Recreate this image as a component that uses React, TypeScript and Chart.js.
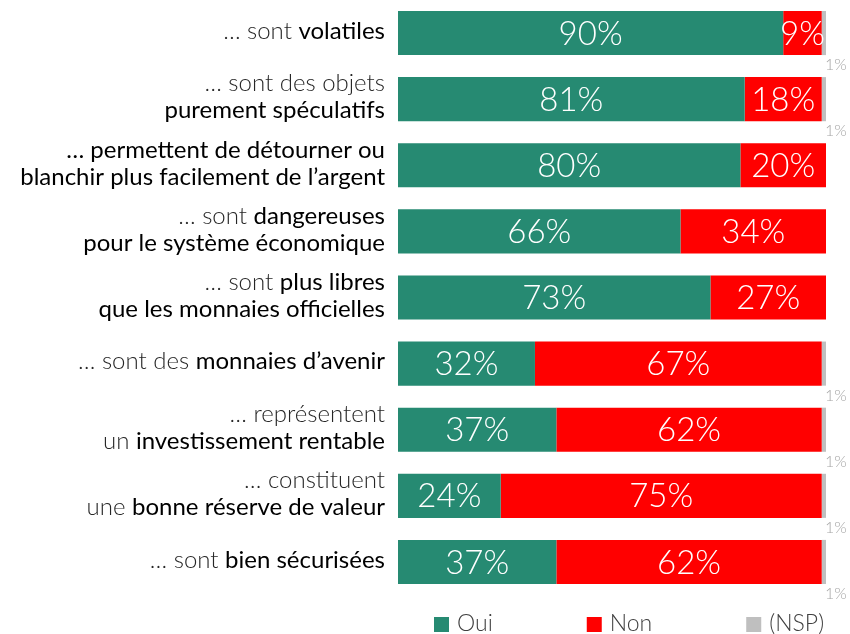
import React, { useEffect, useRef } from "react";
import { Chart, registerables } from "chart.js";

Chart.register(...registerables);

// [text, emphasised]
type Seg = [string, boolean];

const categoryLines: Seg[][][] = [
  [[["… sont ", false], ["volatiles", true]]],
  [[["… sont des objets", false]], [["purement spéculatifs", true]]],
  [[["… permettent de détourner ou", true]], [["blanchir plus facilement de l’argent", true]]],
  [[["… sont ", false], ["dangereuses", true]], [["pour le système économique", true]]],
  [[["… sont ", false], ["plus libres", true]], [["que les monnaies officielles", true]]],
  [[["… sont des ", false], ["monnaies d’avenir", true]]],
  [[["… représentent", false]], [["un ", false], ["investissement rentable", true]]],
  [[["… constituent", false]], [["une ", false], ["bonne réserve de valeur", true]]],
  [[["… sont ", false], ["bien sécurisées", true]]],
];

const categories = categoryLines.map((lines) =>
  lines.map((segs) => segs.map((s) => s[0]).join("")).join(" ")
);

const ouiValues = [90, 81, 80, 66, 73, 32, 37, 24, 37];
const nonValues = [9, 18, 20, 34, 27, 67, 62, 75, 62];
const nspValues = [1, 1, 0, 0, 0, 1, 1, 1, 1];

const seriesNames = ["Oui", "Non", "(NSP)"];
const seriesColors = ["#268A72", "#FF0000", "#BFBFBF"];

const FONT = "Lato, 'Open Sans', sans-serif";

const fontFor = (bold: boolean, size = 24) =>
  `${bold ? 400 : 300} ${size}px ${FONT}`;

const overlayPlugin = {
  id: "overlay",
  afterDatasetsDraw(chart: any) {
    const ctx: CanvasRenderingContext2D = chart.ctx;
    const ys = chart.scales.y;
    const xs = chart.scales.x;
    ctx.save();

    // category labels (mixed weights)
    const lineGap = 27;
    categoryLines.forEach((lines, i) => {
      const cy = ys.getPixelForValue(i);
      const n = lines.length;
      lines.forEach((segs, j) => {
        const ly = cy - 2 + (j - (n - 1) / 2) * lineGap;
        let total = 0;
        segs.forEach(([t, b]) => {
          ctx.font = fontFor(b);
          total += ctx.measureText(t).width;
        });
        let x = xs.left - 13 - total;
        ctx.textAlign = "left";
        ctx.textBaseline = "middle";
        segs.forEach(([t, b]) => {
          ctx.font = fontFor(b);
          ctx.fillStyle = b ? "#000000" : "#262626";
          ctx.fillText(t, x, ly);
          x += ctx.measureText(t).width;
        });
      });
    });

    // data labels
    chart.data.datasets.forEach((ds: any, di: number) => {
      const meta = chart.getDatasetMeta(di);
      meta.data.forEach((bar: any, i: number) => {
        const v = ds.data[i];
        if (!v) return;
        const p = bar.getProps(["x", "y", "base", "height"], true);
        if (di < 2) {
          ctx.font = `300 33px ${FONT}`;
          ctx.fillStyle = "#FFFFFF";
          ctx.textAlign = "center";
          ctx.textBaseline = "middle";
          ctx.fillText(`${v}%`, (p.x + p.base) / 2, p.y + 1);
        } else {
          ctx.font = `300 16px ${FONT}`;
          ctx.fillStyle = "#A6A6A6";
          ctx.textAlign = "left";
          ctx.textBaseline = "top";
          ctx.fillText(`${v}%`, p.x - 1, p.y + p.height / 2 + 2);
        }
      });
    });

    // legend
    let lx = xs.left + 36;
    const legendY = 624;
    ctx.font = `300 23px ${FONT}`;
    ctx.textAlign = "left";
    ctx.textBaseline = "middle";
    seriesNames.forEach((name, k) => {
      ctx.fillStyle = seriesColors[k];
      ctx.fillRect(lx, legendY - 7, 15, 15);
      ctx.fillStyle = "#404040";
      ctx.fillText(name, lx + 23, legendY);
      lx += 23 + ctx.measureText(name).width + 94;
    });

    ctx.restore();
  },
};

export default function App() {
  const ref = useRef<HTMLCanvasElement | null>(null);

  useEffect(() => {
    document.body.style.margin = "0";
    const canvas = ref.current;
    if (!canvas) return;
    const chart = new Chart(canvas, {
      type: "bar",
      data: {
        labels: categories,
        datasets: [
          { label: seriesNames[0], data: ouiValues, backgroundColor: seriesColors[0] },
          { label: seriesNames[1], data: nonValues, backgroundColor: seriesColors[1] },
          { label: seriesNames[2], data: nspValues, backgroundColor: seriesColors[2] },
        ],
      },
      options: {
        indexAxis: "y",
        responsive: false,
        animation: false,
        maintainAspectRatio: false,
        datasets: {
          bar: { categoryPercentage: 1, barPercentage: 0.667 },
        },
        layout: { padding: { left: 398, right: 24, top: 0, bottom: 39 } },
        scales: {
          x: { stacked: true, display: false, min: 0, max: 100 },
          y: { stacked: true, display: false },
        },
        plugins: {
          legend: { display: false },
          tooltip: { enabled: false },
        },
      },
      plugins: [overlayPlugin],
    });
    return () => chart.destroy();
  }, []);

  return (
    <canvas
      ref={ref}
      width={850}
      height={634}
      style={{ width: 850, height: 634, display: "block" }}
    />
  );
}
